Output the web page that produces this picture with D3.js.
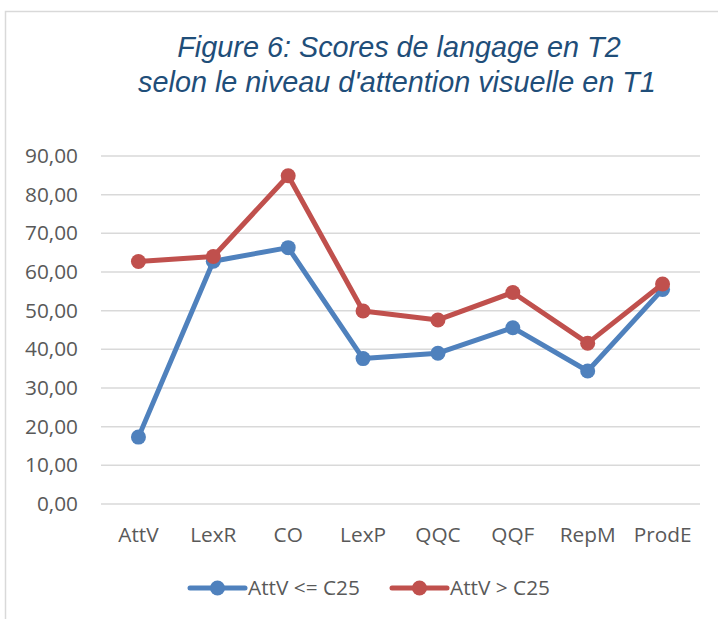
<!DOCTYPE html>
<html>
<head>
<meta charset="utf-8">
<script src="https://cdn.jsdelivr.net/npm/d3@7"></script>
<style>
  body { margin: 0; background: #fff; }
  text { font-family: "Open Sans", "Noto Sans", sans-serif; }
</style>
</head>
<body>
<div class="chart"></div>
<script>
const w = 718;
const h = 619;

const categories = ["AttV", "LexR", "CO", "LexP", "QQC", "QQF", "RepM", "ProdE"];
const lowAttV = [17.3, 62.8, 66.3, 37.6, 39.0, 45.6, 34.4, 55.5];
const highAttV = [62.7, 64.0, 84.9, 49.9, 47.6, 54.7, 41.6, 56.9];
const seriesNames = ["AttV <= C25", "AttV > C25"];
const seriesColors = ["#4F81BD", "#C0504D"];
const yTicks = [0, 10, 20, 30, 40, 50, 60, 70, 80, 90];

const labelFont = "'Open Sans', 'Noto Sans', sans-serif";
const labelSize = 20.8;

const svg = d3.select(".chart")
              .append("svg")
              .attr("width", w)
              .attr("height", h);

// frame of the chart area
svg.append("rect")
   .attr("x", 5.5)
   .attr("y", 11.5)
   .attr("width", w + 10)
   .attr("height", h + 10)
   .attr("fill", "none")
   .attr("stroke", "#D9D9D9")
   .attr("stroke-width", 1.5);

// title
const title = svg.append("text")
   .attr("text-anchor", "middle")
   .attr("fill", "#1F4E79")
   .attr("font-size", 28.8)
   .attr("font-style", "italic")
   .style("font-family", "'Liberation Sans', Arial, sans-serif");
title.append("tspan").attr("x", 399).attr("y", 57).text("Figure 6: Scores de langage en T2");
title.append("tspan").attr("x", 397).attr("y", 92).text("selon le niveau d'attention visuelle en T1");

const xScale = d3.scaleBand()
                 .domain(categories)
                 .range([101, 700]);

const yScale = d3.scaleLinear()
                 .domain([0, 90])
                 .range([504, 156]);

// gridlines
svg.append("g")
   .selectAll("line")
   .data(yTicks)
   .enter()
   .append("line")
   .attr("x1", 101)
   .attr("x2", 700)
   .attr("y1", d => yScale(d))
   .attr("y2", d => yScale(d))
   .attr("stroke", "#D9D9D9")
   .attr("stroke-width", 1.5);

const yAxis = d3.axisLeft(yScale)
                .tickValues(yTicks)
                .tickSize(0)
                .tickPadding(23)
                .tickFormat(d => d3.format(".2f")(d).replace(".", ","));

const yG = svg.append("g")
   .attr("transform", "translate(101,0)")
   .call(yAxis);
yG.select(".domain").remove();
yG.selectAll("text").attr("fill", "#595959").attr("font-size", labelSize)
  .style("font-family", labelFont);

const xAxis = d3.axisBottom(xScale).tickSize(0).tickPadding(23);
const xG = svg.append("g")
   .attr("transform", "translate(0,504)")
   .call(xAxis);
xG.select(".domain").remove();
xG.selectAll("text").attr("fill", "#595959").attr("font-size", labelSize)
  .style("font-family", labelFont);

const cx = d => xScale(d) + xScale.bandwidth() / 2;
const line = d3.line()
               .x((d, i) => cx(categories[i]))
               .y(d => yScale(d));

[lowAttV, highAttV].forEach((vals, s) => {
  svg.append("path")
     .datum(vals)
     .attr("d", line)
     .attr("fill", "none")
     .attr("stroke", seriesColors[s])
     .attr("stroke-width", 5)
     .attr("stroke-linejoin", "round");
  svg.append("g")
     .selectAll("circle")
     .data(vals)
     .enter()
     .append("circle")
     .attr("cx", (d, i) => cx(categories[i]))
     .attr("cy", d => yScale(d))
     .attr("r", 7.5)
     .attr("fill", seriesColors[s]);
});

// legend
const legendX = [190, 392];
seriesNames.forEach((name, s) => {
  const g = svg.append("g").attr("transform", "translate(" + legendX[s] + ",588)");
  g.append("line")
   .attr("x1", 0).attr("x2", 55)
   .attr("stroke", seriesColors[s])
   .attr("stroke-width", 5)
   .attr("stroke-linecap", "round");
  g.append("circle").attr("cx", 27.5).attr("r", 7.5).attr("fill", seriesColors[s]);
  g.append("text")
   .attr("x", 58)
   .attr("y", 7)
   .attr("fill", "#595959")
   .attr("font-size", labelSize)
   .style("font-family", labelFont)
   .text(name);
});
</script>
</body>
</html>
